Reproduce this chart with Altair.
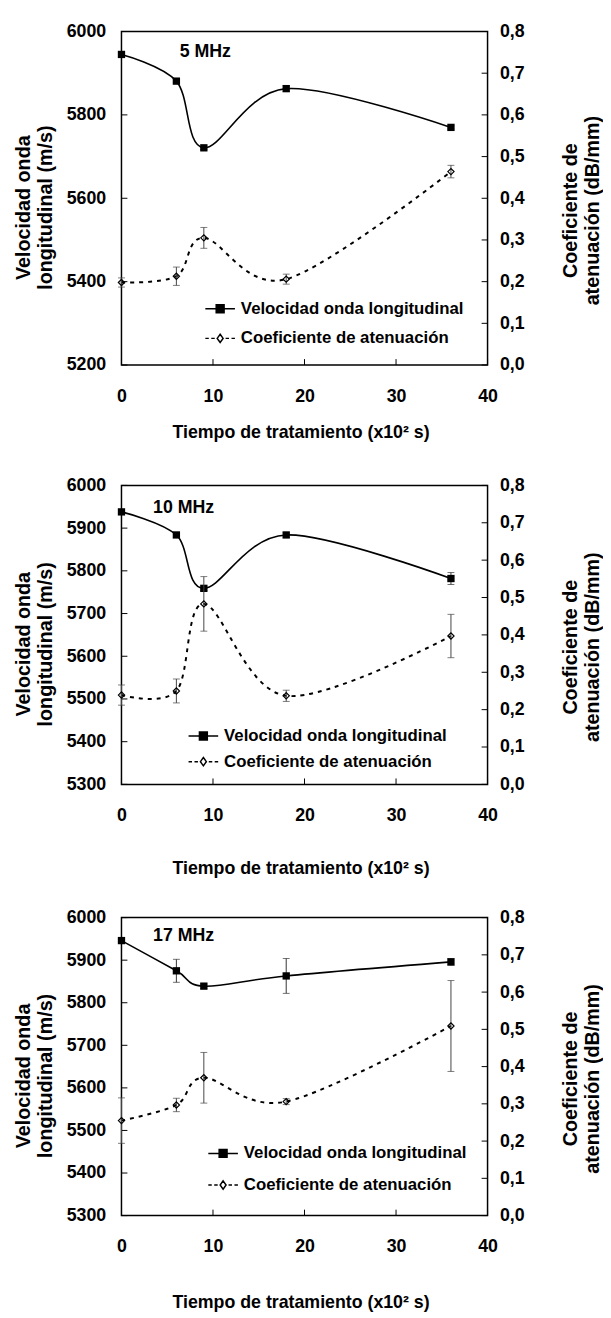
import altair as alt
import pandas as pd

# ---------------- data ----------------
tiempo = [0, 6, 9, 18, 36]

vel_5 = [5945, 5881, 5721, 5863, 5770]
vel_5_err = [6, 4, 4, 7, 4]
ate_5 = [0.198, 0.213, 0.305, 0.206, 0.464]
ate_5_err = [0.011, 0.022, 0.025, 0.012, 0.015]

vel_10 = [5938, 5884, 5759, 5884, 5782]
vel_10_err = [5, 5, 5, 5, 14]
ate_10 = [0.239, 0.250, 0.483, 0.237, 0.397]
ate_10_err = [0.027, 0.032, 0.073, 0.015, 0.058]

vel_17 = [5946, 5875, 5839, 5863, 5896]
vel_17_err = [6, 27, 5, 41, 8]
ate_17 = [0.255, 0.297, 0.370, 0.306, 0.509]
ate_17_err = [0.061, 0.018, 0.068, 0.008, 0.122]

freq_labels = ["5 MHz", "10 MHz", "17 MHz"]
vel_ticks_5 = [5200, 5400, 5600, 5800, 6000]
vel_ticks_10 = [5300, 5400, 5500, 5600, 5700, 5800, 5900, 6000]
vel_ticks_17 = [5300, 5400, 5500, 5600, 5700, 5800, 5900, 6000]
ate_ticks = [0.0, 0.1, 0.2, 0.3, 0.4, 0.5, 0.6, 0.7, 0.8]
x_ticks = [0, 10, 20, 30, 40]
serie_labels = ["Velocidad onda longitudinal", "Coeficiente de atenuación"]
x_title = "Tiempo de tratamiento (x10² s)"
left_title = ["Velocidad onda", "longitudinal (m/s)"]
right_title = ["Coeficiente de", "atenuación (dB/mm)"]

# ---------------- style ----------------
W = 371
FONT = "Liberation Sans, Arial, sans-serif"
SYM_VEL = "M-1.5,0L1.5,0M-0.4,-0.4L0.4,-0.4L0.4,0.4L-0.4,0.4Z"
SYM_ATE = ("M-1.5,0L-1.15,0M-0.9,0L-0.55,0M0.55,0L0.9,0M1.15,0L1.5,0"
           "M0,-0.42L0.3,0L0,0.42L-0.3,0Z")
COMMA = "replace(format(datum.value, '.1f'), '.', ',')"


def make_panel(vel, vel_err, ate, ate_err, vticks, label, h,
               lab_x, lab_y, leg_x, leg_y, leg_pad, xlab_pad, xtitle_y):
    df = pd.DataFrame({
        "t": tiempo,
        "v": vel,
        "v_lo": [v - e for v, e in zip(vel, vel_err)],
        "v_hi": [v + e for v, e in zip(vel, vel_err)],
        "a": ate,
        "a_lo": [a - e for a, e in zip(ate, ate_err)],
        "a_hi": [a + e for a, e in zip(ate, ate_err)],
    })
    xs = alt.Scale(domain=[0, 40], nice=False, zero=False)
    vs = alt.Scale(domain=[vticks[0], vticks[-1]], nice=False, zero=False)
    ascl = alt.Scale(domain=[0, 0.8], nice=False, zero=False)

    x_axis = alt.Axis(
        values=x_ticks, format="d", title=x_title, ticks=False, tickSize=0,
        domain=False, grid=False, labelFont=FONT, labelFontSize=18,
        labelFontWeight="bold", labelColor="black", labelBaseline="middle",
        labelPadding=xlab_pad, labelFlush=False, labelOverlap=False,
        titleFont=FONT, titleFontSize=18, titleFontWeight="bold",
        titleColor="black", titleX=W / 2 - 4, titleY=xtitle_y,
        titleBaseline="middle", titleAlign="center")
    y_left = alt.Axis(
        values=vticks, format="d", orient="left", title=left_title,
        ticks=False, tickSize=0, domain=False, grid=False,
        labelFont=FONT, labelFontSize=18, labelFontWeight="bold",
        labelColor="black", labelPadding=16, labelFlush=False,
        labelOverlap=False, titleFont=FONT, titleFontSize=20,
        titleFontWeight="bold", titleColor="black", titleAngle=270,
        titleAlign="center", titleBaseline="middle", titleX=-99,
        titleY=h / 2 + 9, titleLineHeight=22)
    y_right = alt.Axis(
        values=ate_ticks, orient="right", labelExpr=COMMA, title=right_title,
        ticks=False, tickSize=0, domain=False, grid=False,
        labelFont=FONT, labelFontSize=18, labelFontWeight="bold",
        labelColor="black", labelPadding=12, labelFlush=False,
        labelOverlap=False, titleFont=FONT, titleFontSize=20,
        titleFontWeight="bold", titleColor="black", titleAngle=270,
        titleAlign="center", titleBaseline="middle", titleX=84,
        titleY=h / 2 + 12, titleLineHeight=22)

    X = alt.X("t:Q", scale=xs, axis=x_axis)
    base = alt.Chart(df)
    vel_line = base.mark_line(color="black", strokeWidth=1.6,
                              interpolate="cardinal").encode(
        x=X, y=alt.Y("v:Q", scale=vs, axis=y_left))
    vel_err_l = base.mark_errorbar(ticks=True, color="#333333",
                                   thickness=1, size=7).encode(
        x=X, y=alt.Y("v_lo:Q", scale=vs, axis=y_left), y2="v_hi:Q")
    vel_pts = base.mark_point(shape="square", filled=True, color="black",
                              size=55, opacity=1).encode(
        x=X, y=alt.Y("v:Q", scale=vs, axis=y_left))
    vtick = alt.Chart(pd.DataFrame({"v": vticks})).mark_rule(
        color="black", strokeWidth=1).encode(
        y=alt.Y("v:Q", scale=vs, axis=y_left),
        x=alt.value(0), x2=alt.value(6))
    xtick = alt.Chart(pd.DataFrame({"t": x_ticks})).mark_rule(
        color="black", strokeWidth=1).encode(
        x=X, y=alt.value(h - 6), y2=alt.value(h))
    freq = alt.Chart(pd.DataFrame({"f": [label]})).mark_text(
        font=FONT, fontSize=18, fontWeight="bold", color="black",
        align="left", baseline="middle").encode(
        text="f:N", x=alt.value(lab_x), y=alt.value(lab_y))
    leg = alt.Legend(
        orient="none", legendX=leg_x, legendY=leg_y, title=None,
        symbolSize=400, symbolStrokeWidth=1.5, symbolOpacity=1,
        labelFont=FONT, labelFontSize=17,
        labelFontWeight="bold", labelColor="black", labelOffset=10,
        rowPadding=leg_pad, padding=0, labelLimit=400)
    dummy = alt.Chart(pd.DataFrame({"leyenda": serie_labels})).mark_point(
        opacity=0, color="black", strokeWidth=1.5, size=1).encode(
        x=alt.value(W / 2), y=alt.value(h / 2),
        shape=alt.Shape("leyenda:N", legend=leg,
                        scale=alt.Scale(domain=serie_labels,
                                        range=[SYM_VEL, SYM_ATE])),
        fill=alt.Fill("leyenda:N", legend=leg,
                      scale=alt.Scale(domain=serie_labels,
                                      range=["black", "white"])),
        stroke=alt.Stroke("leyenda:N", legend=leg,
                          scale=alt.Scale(domain=serie_labels,
                                          range=["black", "black"])))
    vel_group = alt.layer(vel_line, vel_err_l, vel_pts, vtick, xtick, freq,
                          dummy)

    ate_line = base.mark_line(color="black", strokeWidth=2,
                              strokeDash=[4, 5],
                              interpolate="cardinal").encode(
        x=X, y=alt.Y("a:Q", scale=ascl, axis=y_right))
    ate_err_l = base.mark_errorbar(ticks=True, color="#444444",
                                   thickness=1, size=7).encode(
        x=X, y=alt.Y("a_lo:Q", scale=ascl, axis=y_right), y2="a_hi:Q")
    ate_pts = base.mark_point(shape="diamond", filled=False, color="black",
                              size=40, strokeWidth=1.2, opacity=1).encode(
        x=X, y=alt.Y("a:Q", scale=ascl, axis=y_right))
    atick = alt.Chart(pd.DataFrame({"a": ate_ticks})).mark_rule(
        color="black", strokeWidth=1).encode(
        y=alt.Y("a:Q", scale=ascl, axis=y_right),
        x=alt.value(W - 6), x2=alt.value(W))
    ate_group = alt.layer(ate_line, ate_err_l, ate_pts, atick)

    return alt.layer(vel_group, ate_group).resolve_scale(
        y="independent").properties(
        width=W, height=h,
        view=alt.ViewBackground(stroke="black", strokeWidth=1.5))


p1 = make_panel(vel_5, vel_5_err, ate_5, ate_5_err, vel_ticks_5,
                freq_labels[0], 338, 59, 21, 89, 270, 11, 32, 68)
p2 = make_panel(vel_10, vel_10_err, ate_10, ate_10_err, vel_ticks_10,
                freq_labels[1], 303, 32, 23, 72, 243, 7, 32, 85)
p3 = make_panel(vel_17, vel_17_err, ate_17, ate_17_err, vel_ticks_17,
                freq_labels[2], 302, 32, 19, 92, 228, 13, 31, 88)

indep = dict(shape="independent", fill="independent", stroke="independent")
top_pair = alt.vconcat(p1, p2, spacing=34).resolve_scale(
    **indep).resolve_legend(**indep)

chart = alt.vconcat(top_pair, p3, spacing=30).resolve_scale(
    **indep).resolve_legend(**indep).configure_view(
    stroke="black", strokeWidth=1.5).properties(
    padding={"left": 5, "top": 5, "right": 0, "bottom": 0})

chart.save("out.html", embed_options={"renderer": "svg", "actions": False})
